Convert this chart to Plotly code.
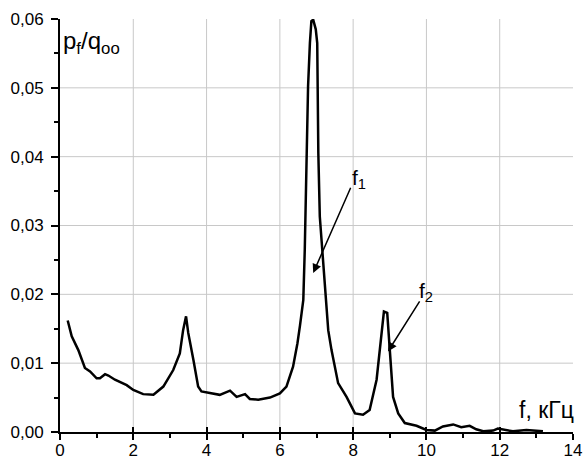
import plotly.graph_objects as go

freq = [0.21, 0.32, 0.50, 0.68, 0.82, 1.00, 1.09, 1.23, 1.32, 1.50, 1.82, 2.00, 2.27, 2.55,
        2.82, 3.09, 3.27, 3.36, 3.44, 3.50, 3.64, 3.77, 3.86, 4.09, 4.36, 4.64, 4.82, 5.05,
        5.18, 5.41, 5.73, 6.00, 6.18, 6.36, 6.48, 6.55, 6.64, 6.68, 6.73, 6.77, 6.82, 6.86,
        6.91, 6.98, 7.02, 7.03, 7.05, 7.09, 7.18, 7.27, 7.32, 7.41, 7.59, 7.82, 8.05, 8.27,
        8.45, 8.64, 8.77, 8.84, 8.93, 9.00, 9.09, 9.23, 9.41, 9.73, 10.00, 10.23, 10.45,
        10.73, 10.95, 11.18, 11.36, 11.55, 11.82, 11.95, 12.18, 12.36, 12.73, 13.18]
pf = [0.0162, 0.0139, 0.0119, 0.0093, 0.0088, 0.0078, 0.0078, 0.0084, 0.0082, 0.0076, 0.0068,
      0.0061, 0.0055, 0.0054, 0.0066, 0.0090, 0.0114, 0.0148, 0.0168, 0.0144, 0.0105, 0.0066,
      0.0059, 0.0057, 0.0054, 0.0060, 0.0051, 0.0055, 0.0048, 0.0047, 0.0050, 0.0056, 0.0066,
      0.0095, 0.0129, 0.0155, 0.0192, 0.0265, 0.0405, 0.0502, 0.0565, 0.0597, 0.0599, 0.0585,
      0.0565, 0.0502, 0.0405, 0.0313, 0.0250, 0.0192, 0.0148, 0.0119, 0.0071, 0.0051, 0.0027,
      0.0025, 0.0032, 0.0076, 0.0144, 0.0175, 0.0173, 0.0119, 0.0051, 0.0027, 0.0013, 0.0009,
      0.0003, 0.0002, 0.0008, 0.0011, 0.0007, 0.0009, 0.0004, 0.0001, 0.0002, 0.0005, 0.0003,
      0.0001, 0.0003, 0.0001]

x_ticks = [0, 2, 4, 6, 8, 10, 12, 14]
y_ticks = [0.00, 0.01, 0.02, 0.03, 0.04, 0.05, 0.06]

peak_labels = ["f<sub>1</sub>", "f<sub>2</sub>"]
label_x = [8.15, 10.0]
label_y = [0.0368, 0.0203]
arrow_tail_x = [7.95, 9.84]
arrow_tail_y = [0.0357, 0.0192]
arrow_head_x = [6.91, 8.95]
arrow_head_y = [0.0231, 0.0117]

FONT = "Arial, Liberation Sans, sans-serif"
GRID = "#c8c8c8"

fig = go.Figure()

# grid lines at the interior major ticks
for xv in x_ticks[1:-1]:
    fig.add_shape(type="line", xref="x", yref="paper", x0=xv, x1=xv, y0=0, y1=1,
                  line=dict(color=GRID, width=1), layer="below")
for yv in y_ticks[1:-1]:
    fig.add_shape(type="line", xref="paper", yref="y", x0=0, x1=1, y0=yv, y1=yv,
                  line=dict(color=GRID, width=1), layer="below")

fig.add_trace(go.Scatter(x=freq, y=pf, mode="lines",
                         line=dict(color="black", width=2.5), showlegend=False))
# invisible helper trace so the overlaid x-axis (inner tick halves) is drawn
fig.add_trace(go.Scatter(x=[x_ticks[0]], y=[y_ticks[0]], xaxis="x2", mode="markers",
                         marker=dict(opacity=0), showlegend=False, hoverinfo="skip"))

for i in range(2):
    fig.add_annotation(x=arrow_head_x[i], y=arrow_head_y[i], ax=arrow_tail_x[i], ay=arrow_tail_y[i],
                       xref="x", yref="y", axref="x", ayref="y", text="", showarrow=True,
                       arrowhead=2, arrowsize=1.2, arrowwidth=1.5, arrowcolor="black")
    fig.add_annotation(x=label_x[i], y=label_y[i], xref="x", yref="y", text=peak_labels[i],
                       showarrow=False, font=dict(family=FONT, size=21, color="black"))

fig.add_annotation(x=1, y=0, xref="paper", yref="paper", xanchor="right", yanchor="bottom",
                   xshift=3, yshift=7, text="f, кГц", showarrow=False,
                   font=dict(family=FONT, size=23, color="black"))
fig.add_annotation(x=0, y=1, xref="paper", yref="paper", xanchor="left", yanchor="top",
                   xshift=1, yshift=-6, text="p<sub>f</sub>/q<sub>oo</sub>", showarrow=False,
                   font=dict(family=FONT, size=24, color="black"))

fig.update_layout(
    width=584, height=459,
    margin=dict(l=60, r=11, t=19, b=27),
    paper_bgcolor="white", plot_bgcolor="white",
    separators=", ",
    font=dict(family=FONT, size=17, color="black"),
    xaxis2=dict(overlaying="x", anchor="y", side="bottom", range=[0, 14], tickvals=x_ticks,
                ticks="inside", ticklen=5, tickwidth=1.5, tickcolor="black",
                showticklabels=False, showline=False, showgrid=False, zeroline=False,
                automargin=False),
)
fig.layout.xaxis.update(range=[0, 14], tickvals=x_ticks, showline=True, linecolor="black",
                        linewidth=2, ticks="outside", ticklen=6, tickwidth=1.5, tickcolor="black",
                        ticklabelstandoff=-4, showgrid=False, zeroline=False, automargin=False,
                        minor=dict(dtick=1, ticks="outside", ticklen=4, tickcolor="black"))
fig.layout.yaxis.update(range=[0, 0.06], tickvals=y_ticks, tickformat=".2f", showline=True,
                        linecolor="black", linewidth=2, ticks="outside", ticklen=7, tickwidth=1.5,
                        tickcolor="black", ticklabelstandoff=4, showgrid=False, zeroline=False,
                        automargin=False,
                        minor=dict(dtick=0.005, ticks="outside", ticklen=4, tickcolor="black"))

fig.write_html("out.html")
